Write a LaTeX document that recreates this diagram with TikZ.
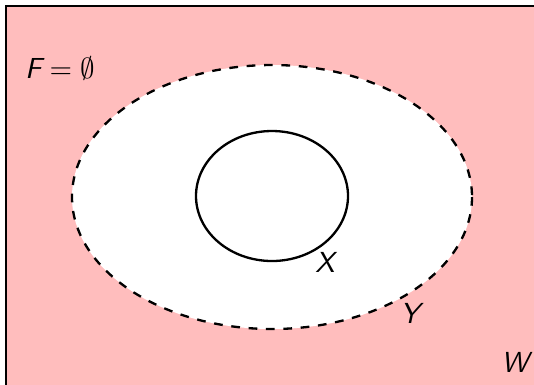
\documentclass[tikz,border=0pt]{standalone}
\usepackage{tikz}

\begin{document}
\begin{tikzpicture}[x=0.345pt,y=-0.345pt,
	lbl/.style={font=\sffamily\itshape}]
		
		\useasboundingbox (0,0) rectangle (534,384);
		
		\draw[fill=red!26,line width=0.8pt] (6,6) rectangle (560,410);
		
		\draw[fill=white,dashed,thick] (272,197) ellipse (200 and 132);
		\draw[thick] (272,196) ellipse (76 and 65);
		
		\node[lbl] (f) at (60,68) {$\textsf{\textit{F}}=\emptyset$};
		\node[lbl] (x) at (325,262) {X};
		\node[lbl] (y) at (410,313) {Y};
		\node[lbl] (w) at (515,362) {W};
		
	\end{tikzpicture}
\end{document}
